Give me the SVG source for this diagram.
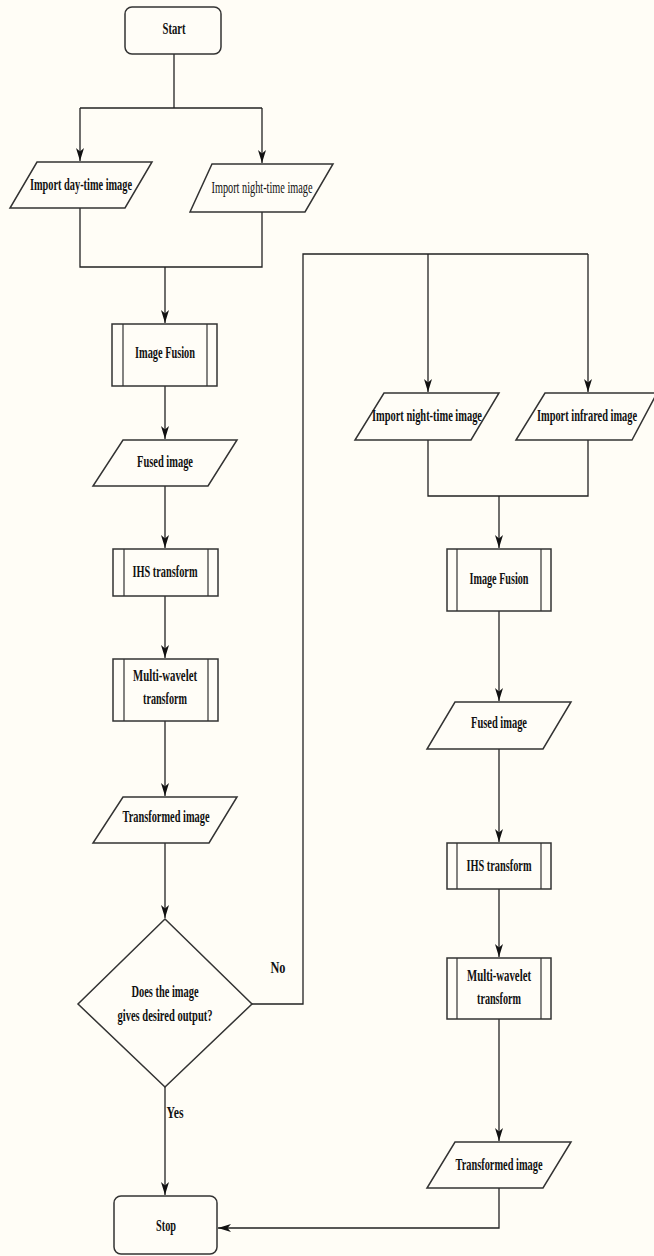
<svg xmlns="http://www.w3.org/2000/svg" width="654" height="1256" viewBox="0 0 654 1256">
<defs>
<style>
.s{fill:#fffdf7;stroke:#333;stroke-width:1.5}
.in{stroke:#333;stroke-width:1.2;fill:none}
.c{fill:none;stroke:#222;stroke-width:1.3}
.t{font-family:"Liberation Serif","Times New Roman",serif;font-weight:bold;font-size:17px;fill:#111;text-anchor:middle}
.n{font-weight:normal}
</style>
<marker id="ar" markerUnits="userSpaceOnUse" markerWidth="14" markerHeight="8" refX="13" refY="4" orient="auto">
<path d="M0,0 L13,4 L0,8 L3.5,4 z" fill="#111"/>
</marker>
</defs>
<rect width="654" height="1256" fill="#fffdf6"/>
<g id="connectors">
<path class="c" d="M174,54 V108"/>
<path class="c" d="M80,108 H262"/>
<path class="c" d="M80,108 V161" marker-end="url(#ar)"/>
<path class="c" d="M262,108 V163" marker-end="url(#ar)"/>
<path class="c" d="M80,208 V267 H262 V212"/>
<path class="c" d="M165,267 V323" marker-end="url(#ar)"/>
<path class="c" d="M165,386 V439" marker-end="url(#ar)"/>
<path class="c" d="M165,486 V548" marker-end="url(#ar)"/>
<path class="c" d="M165,596 V658" marker-end="url(#ar)"/>
<path class="c" d="M165,721 V796" marker-end="url(#ar)"/>
<path class="c" d="M165,843 V918" marker-end="url(#ar)"/>
<path class="c" d="M165,1087 V1195" marker-end="url(#ar)"/>
<path class="c" d="M252,1004 H303 V254 H588"/>
<path class="c" d="M428,254 V392" marker-end="url(#ar)"/>
<path class="c" d="M588,254 V392" marker-end="url(#ar)"/>
<path class="c" d="M428,440 V496 H588 V440"/>
<path class="c" d="M499,496 V548" marker-end="url(#ar)"/>
<path class="c" d="M499,611 V701" marker-end="url(#ar)"/>
<path class="c" d="M499,749 V842" marker-end="url(#ar)"/>
<path class="c" d="M499,889 V957" marker-end="url(#ar)"/>
<path class="c" d="M499,1019 V1141" marker-end="url(#ar)"/>
<path class="c" d="M499,1188 V1228 H218" marker-end="url(#ar)"/>
<text class="t" x="278" y="973" textLength="15" lengthAdjust="spacingAndGlyphs">No</text>
<text class="t" x="175" y="1118" textLength="17" lengthAdjust="spacingAndGlyphs">Yes</text>
</g>
<g id="start">
<rect class="s" x="125" y="7" width="96" height="47" rx="7"/>
<text class="t" x="174" y="34" textLength="23" lengthAdjust="spacingAndGlyphs">Start</text>
</g>
<g id="import-day">
<polygon class="s" points="37,162 152,162 125,208 10,208"/>
<text class="t" x="81" y="190" textLength="102" lengthAdjust="spacingAndGlyphs">Import day-time image</text>
</g>
<g id="import-night-1">
<polygon class="s" points="212,164 333,164 305,212 190,212"/>
<text class="t n" x="262" y="193" textLength="101" lengthAdjust="spacingAndGlyphs">Import night-time image</text>
</g>
<g id="fusion-1">
<rect class="s" x="112" y="324" width="105" height="62"/>
<path class="in" d="M123,324 V386 M207,324 V386"/>
<text class="t" x="165" y="358" textLength="60" lengthAdjust="spacingAndGlyphs">Image Fusion</text>
</g>
<g id="fused-1">
<polygon class="s" points="123,440 237,440 208,486 93,486"/>
<text class="t" x="165" y="467" textLength="56" lengthAdjust="spacingAndGlyphs">Fused image</text>
</g>
<g id="ihs-1">
<rect class="s" x="113" y="549" width="105" height="47"/>
<path class="in" d="M124,549 V596 M208,549 V596"/>
<text class="t" x="165" y="577" textLength="65" lengthAdjust="spacingAndGlyphs">IHS transform</text>
</g>
<g id="mw-1">
<rect class="s" x="113" y="659" width="105" height="62"/>
<path class="in" d="M124,659 V721 M208,659 V721"/>
<text class="t" x="165" y="681" textLength="64" lengthAdjust="spacingAndGlyphs">Multi-wavelet</text>
<text class="t" x="165" y="704" textLength="44" lengthAdjust="spacingAndGlyphs">transform</text>
</g>
<g id="transformed-1">
<polygon class="s" points="123,797 237,797 209,843 93,843"/>
<text class="t" x="166" y="822" textLength="87" lengthAdjust="spacingAndGlyphs">Transformed image</text>
</g>
<g id="decision">
<polygon class="s" points="165,919 252,1004 165,1087 78,1004"/>
<text class="t" x="165" y="997" textLength="67" lengthAdjust="spacingAndGlyphs">Does the image</text>
<text class="t" x="165" y="1021" textLength="95" lengthAdjust="spacingAndGlyphs">gives desired output?</text>
</g>
<g id="stop">
<rect class="s" x="114" y="1196" width="103" height="58" rx="7"/>
<text class="t" x="166" y="1231" textLength="20" lengthAdjust="spacingAndGlyphs">Stop</text>
</g>
<g id="import-night-2">
<polygon class="s" points="384,393 499,393 471,440 355,440"/>
<text class="t" x="427" y="421" textLength="110" lengthAdjust="spacingAndGlyphs">Import night-time image</text>
</g>
<g id="import-infrared">
<polygon class="s" points="545,393 657,393 632,440 516,440"/>
<text class="t" x="587" y="421" textLength="100" lengthAdjust="spacingAndGlyphs">Import infrared image</text>
</g>
<g id="fusion-2">
<rect class="s" x="447" y="549" width="104" height="62"/>
<path class="in" d="M457,549 V611 M541,549 V611"/>
<text class="t" x="499" y="584" textLength="59" lengthAdjust="spacingAndGlyphs">Image Fusion</text>
</g>
<g id="fused-2">
<polygon class="s" points="455,702 571,702 543,749 427,749"/>
<text class="t" x="499" y="728" textLength="56" lengthAdjust="spacingAndGlyphs">Fused image</text>
</g>
<g id="ihs-2">
<rect class="s" x="447" y="843" width="104" height="46"/>
<path class="in" d="M457,843 V889 M541,843 V889"/>
<text class="t" x="499" y="871" textLength="65" lengthAdjust="spacingAndGlyphs">IHS transform</text>
</g>
<g id="mw-2">
<rect class="s" x="447" y="958" width="104" height="61"/>
<path class="in" d="M457,958 V1019 M541,958 V1019"/>
<text class="t" x="499" y="981" textLength="64" lengthAdjust="spacingAndGlyphs">Multi-wavelet</text>
<text class="t" x="499" y="1004" textLength="44" lengthAdjust="spacingAndGlyphs">transform</text>
</g>
<g id="transformed-2">
<polygon class="s" points="455,1142 571,1142 543,1188 427,1188"/>
<text class="t" x="499" y="1170" textLength="87" lengthAdjust="spacingAndGlyphs">Transformed image</text>
</g>
</svg>
